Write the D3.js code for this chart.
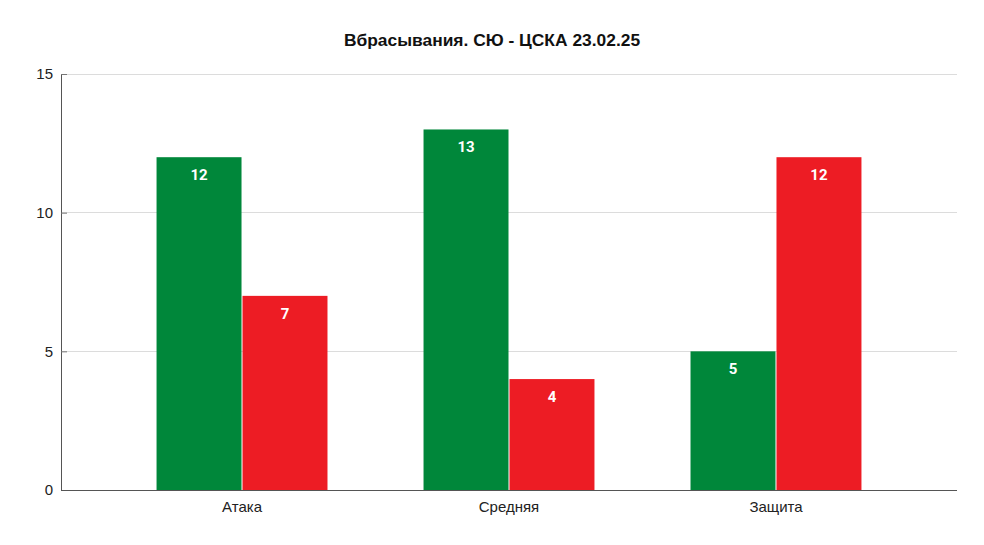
<!DOCTYPE html>
<html><head><meta charset="utf-8">
<script src="https://cdn.jsdelivr.net/npm/d3@7"></script>
<style>body{margin:0;background:#fff;}svg{display:block;}</style>
</head><body>
<script>
const categories = ["Атака", "Средняя", "Защита"];
const seriesNames = ["СЮ", "ЦСКА"];
const seriesA = [12, 13, 5];
const seriesB = [7, 4, 12];
const yTicks = [0, 5, 10, 15];
const colors = ["#00873A", "#ED1C24"];
const title = "Вбрасывания. СЮ - ЦСКА 23.02.25";

const W = 984, H = 545;
const m = {l: 61, r: 27, t: 74, b: 55};
const svg = d3.select("body").append("svg").attr("width", W).attr("height", H);

const x0 = d3.scaleBand().domain(categories).range([m.l, W - m.r]).padding(0.356);
const x1 = d3.scaleBand().domain(seriesNames).range([0, x0.bandwidth()]);
const y = d3.scaleLinear().domain([0, 15]).range([H - m.b, m.t]);

svg.append("text").attr("x", 492).attr("y", 46).attr("text-anchor", "middle")
  .attr("font-family", "Liberation Sans, Arial, sans-serif").attr("font-weight", "bold")
  .attr("font-size", 17.4).attr("fill", "#111").text(title);

// gridlines
svg.append("g").selectAll("line").data(yTicks.filter(d => d > 0)).join("line")
  .attr("x1", m.l).attr("x2", W - m.r).attr("y1", d => y(d)).attr("y2", d => y(d))
  .attr("stroke", "#dcdcdc").attr("stroke-width", 1).attr("shape-rendering", "crispEdges");

// bars
const data = categories.map((c, i) => ({c, vals: [seriesA[i], seriesB[i]]}));
const g = svg.append("g").selectAll("g").data(data).join("g")
  .attr("transform", d => `translate(${x0(d.c)},0)`);
g.selectAll("rect").data(d => d.vals.map((v, j) => ({v, j}))).join("rect")
  .attr("x", d => x1(seriesNames[d.j]) + 0.5).attr("width", x1.bandwidth() - 1)
  .attr("y", d => y(d.v)).attr("height", d => y(0) - y(d.v))
  .attr("fill", d => colors[d.j]);
g.selectAll("text").data(d => d.vals.map((v, j) => ({v, j}))).join("text")
  .attr("x", d => x1(seriesNames[d.j]) + x1.bandwidth() / 2)
  .attr("y", d => y(d.v) + 23).attr("text-anchor", "middle")
  .attr("font-family", "Roboto, Liberation Sans, sans-serif").attr("font-weight", "bold")
  .attr("font-size", 15).attr("fill", "#fff").text(d => d.v);

// y axis
const ya = svg.append("g").attr("transform", `translate(${m.l},0)`)
  .call(d3.axisLeft(y).tickValues(yTicks).tickSize(-6).tickPadding(8));
ya.select(".domain").attr("stroke", "#555");
ya.selectAll(".tick line").attr("stroke", "#777");
ya.selectAll("text").attr("font-family", "Liberation Sans, Arial, sans-serif").attr("font-size", 15).attr("fill", "#222");

// x axis
const xa = svg.append("g").attr("transform", `translate(0,${H - m.b})`)
  .call(d3.axisBottom(x0).tickSize(0).tickPadding(11));
xa.select(".domain").attr("stroke", "#555").attr("d", `M${m.l},0.5H${W - m.r}`);
xa.selectAll("text").attr("font-family", "Liberation Sans, Arial, sans-serif").attr("font-size", 15).attr("fill", "#222");
</script>
</body></html>
